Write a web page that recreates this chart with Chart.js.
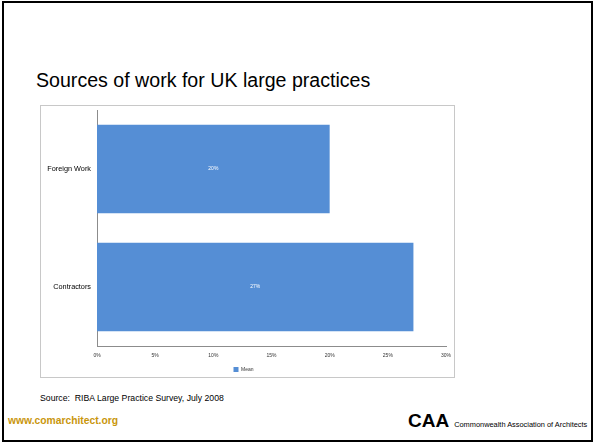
<!DOCTYPE html>
<html>
<head>
<meta charset="utf-8">
<script src="https://cdn.jsdelivr.net/npm/chart.js@4"></script>
<style>
  body { margin: 0; background: #fff; font-family: "Liberation Sans", Arial, sans-serif; }
  #slide { position: relative; width: 594px; height: 444px; overflow: hidden; }
  #frame { position: absolute; left: 2px; top: 1px; width: 591px; height: 441px; border: 2px solid #000; box-sizing: border-box; }
  #title { position: absolute; left: 36px; top: 69px; font-size: 19.6px; color: #000; white-space: nowrap; }
  #box { position: absolute; left: 40px; top: 105px; width: 415px; height: 273px; border: 1px solid #c8c8c8; box-sizing: border-box; }
  #source { position: absolute; left: 40px; top: 393px; font-size: 8.7px; white-space: nowrap; }
  #web { position: absolute; left: 8px; top: 415px; font-size: 10.3px; font-weight: bold; color: #c9960c; white-space: nowrap; }
  #caa { position: absolute; left: 408px; top: 410px; font-size: 19px; font-weight: bold; white-space: nowrap; }
  #caa span { font-size: 7.4px; font-weight: normal; margin-left: 5px; }
</style>
</head>
<body>
<div id="slide">
  <div id="frame"></div>
  <div id="title">Sources of work for UK large practices</div>
  <div id="box"><canvas id="chart_barra" width="413" height="271"></canvas></div>
  <div id="source">Source:&nbsp; RIBA Large Practice Survey, July 2008</div>
  <div id="web">www.comarchitect.org</div>
  <div id="caa">CAA<span>Commonwealth Association of Architects</span></div>
</div>
<script>
const categorias = ['Foreign Work', 'Contractors'];
const media = [20, 27.2];
const ticks_x = [0, 5, 10, 15, 20, 25, 30];

// rotulo branco no meio de cada barra
const rotulos = {
  id: 'rotulos',
  afterDatasetsDraw(chart) {
    const ctx = chart.ctx;
    const meta = chart.getDatasetMeta(0);
    ctx.save();
    ctx.fillStyle = '#ffffff';
    ctx.font = '5px "Liberation Sans", Arial, sans-serif';
    ctx.textAlign = 'center';
    ctx.textBaseline = 'middle';
    meta.data.forEach((bar, i) => {
      ctx.fillText(Math.round(media[i]) + '%', (bar.x + bar.base) / 2, bar.y);
    });
    ctx.restore();
  }
};

const barra = document.getElementById('chart_barra');

new Chart(barra, {
  type: 'bar',
  data: {
    labels: categorias,
    datasets: [{
      label: 'Mean',
      data: media,
      backgroundColor: '#558ed5',
      borderWidth: 0,
      categoryPercentage: 0.75,
      barPercentage: 1
    }]
  },
  options: {
    indexAxis: 'y',
    responsive: false,
    animation: false,
    layout: { padding: { left: 0, right: 8, top: 4, bottom: -5 } },
    scales: {
      x: {
        min: 0,
        max: 30,
        afterBuildTicks: s => { s.ticks = ticks_x.map(v => ({ value: v })); },
        afterFit: s => { s.height = 17; s.paddingLeft = 0; s.paddingRight = 0; },
        grid: { display: false, drawTicks: false },
        border: { display: true, color: '#8c8c8c', width: 1 },
        ticks: {
          padding: 7,
          color: '#333',
          font: { size: 5, family: 'Liberation Sans' },
          callback: v => v + '%'
        }
      },
      y: {
        afterFit: s => { s.width = 56; s.paddingTop = 0; s.paddingBottom = 0; },
        grid: { display: false, drawTicks: false },
        border: { display: true, color: '#8c8c8c', width: 1 },
        ticks: {
          padding: 6,
          color: '#000',
          font: { size: 7.3, family: 'Liberation Sans' }
        }
      }
    },
    plugins: {
      legend: {
        position: 'bottom',
        labels: {
          boxWidth: 5,
          boxHeight: 5,
          padding: 4,
          color: '#333',
          font: { size: 5, family: 'Liberation Sans' }
        }
      },
      tooltip: { enabled: false }
    }
  },
  plugins: [rotulos]
});
</script>
</body>
</html>
